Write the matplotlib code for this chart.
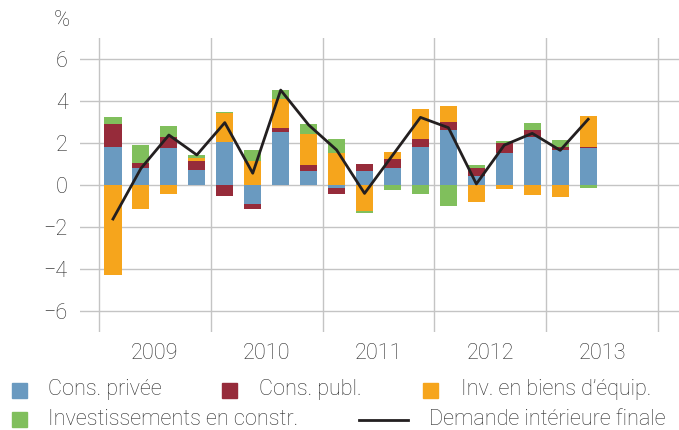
import matplotlib
matplotlib.use("Agg")
import matplotlib.pyplot as plt
import numpy as np
from matplotlib.patches import Rectangle
from matplotlib.lines import Line2D

# contributions a la croissance de la demande, par trimestre 2009T1 - 2013T2
years = ["2009", "2010", "2011", "2012", "2013"]
priv = [1.81, 0.83, 1.78, 0.73, 2.06, -0.90, 2.52, 0.67, -0.14, 0.67, 0.81, 1.81, 2.62, 0.43, 1.52, 2.29, 1.67, 1.78]
publ = [1.09, 0.22, 0.51, 0.43, -0.52, -0.22, 0.19, 0.29, -0.27, 0.33, 0.43, 0.38, 0.38, 0.38, 0.48, 0.33, 0.14, 0.05]
equip = [-4.29, -1.13, -0.41, 0.14, 1.35, 1.14, 1.37, 1.49, 1.52, -1.24, 0.33, 1.43, 0.76, -0.81, -0.19, -0.48, -0.57, 1.46]
constr = [0.33, 0.86, 0.52, 0.13, 0.08, 0.54, 0.44, 0.46, 0.67, -0.10, -0.24, -0.43, -1.00, 0.14, 0.10, 0.33, 0.33, -0.14]
demand = [-1.62, 0.79, 2.38, 1.43, 2.97, 0.56, 4.52, 2.86, 1.67, -0.40, 1.41, 3.22, 2.73, 0.05, 1.90, 2.46, 1.65, 3.13]

labels = ["Cons. privée", "Cons. publ.", "Inv. en biens d\u2019équip.",
          "Investissements en constr.", "Demande intérieure finale"]
colors = ["#6a9ac0", "#962b3a", "#f6a51c", "#80bf5c"]
line_color = "#231f20"
txt = "#2e2e2e"
grid_c = "#c4c4c4"

plt.rcParams["font.family"] = ["Roboto", "DejaVu Sans"]
plt.rcParams["font.weight"] = "light"
plt.rcParams["font.size"] = 15.6

fig = plt.figure(figsize=(6.79, 4.30), dpi=100)
ax = fig.add_axes([80 / 679, 98 / 430, 599 / 679, 294 / 430])

x = np.arange(len(priv))
pos = np.zeros(len(x))
neg = np.zeros(len(x))
for vals, c in zip([priv, publ, equip, constr], colors):
    v = np.array(vals)
    bottom = np.where(v >= 0, pos, neg)
    ax.bar(x, v, 0.61, bottom=bottom, color=c, zorder=2)
    pos = pos + np.where(v >= 0, v, 0)
    neg = neg + np.where(v < 0, v, 0)

ax.plot(x, demand, color=line_color, lw=2, zorder=3)

ax.set_ylim(-7, 7)
ax.set_xlim(-1.18, 20.25)
ax.set_yticks(range(-6, 7, 2))
ax.set_yticklabels([str(t).replace("-", "\u2212") for t in range(-6, 7, 2)])
ax.set_xticks(np.arange(-0.5, 20, 4))
ax.set_xticklabels([])
ax.set_xticks(np.arange(1.5, 20, 4), minor=True)
ax.set_xticklabels(years, minor=True)
ax.tick_params(axis="both", which="both", length=0, colors=txt)
ax.tick_params(axis="y", pad=9)
ax.tick_params(axis="x", which="minor", pad=8)
ax.grid(True, color=grid_c, lw=1, zorder=0)
for s in ax.spines.values():
    s.set_visible(False)

fig.text(62 / 679, 1 - 21 / 430, "%", ha="center", va="center", color=txt)

# legende
def sq(x0, yc, c):
    fig.add_artist(Rectangle((x0 / 679, (430 - yc - 7.5) / 430), 15 / 679, 15 / 430,
                             color=c, transform=fig.transFigure))

rows = [390, 419.5]
sq(12, rows[0], colors[0])
sq(222, rows[0], colors[1])
sq(423, rows[0], colors[2])
sq(12, rows[1], colors[3])
fig.add_artist(Line2D([359 / 679, 408 / 679], [(430 - rows[1]) / 430] * 2,
                      color=line_color, lw=2, transform=fig.transFigure))
for (tx, ry), lab in zip([(48, 0), (259, 0), (461, 0), (48, 1), (429, 1)], labels):
    fig.text(tx / 679, (430 - rows[ry]) / 430, lab, ha="left", va="center", color=txt)

fig.savefig("out.png", dpi=100)
